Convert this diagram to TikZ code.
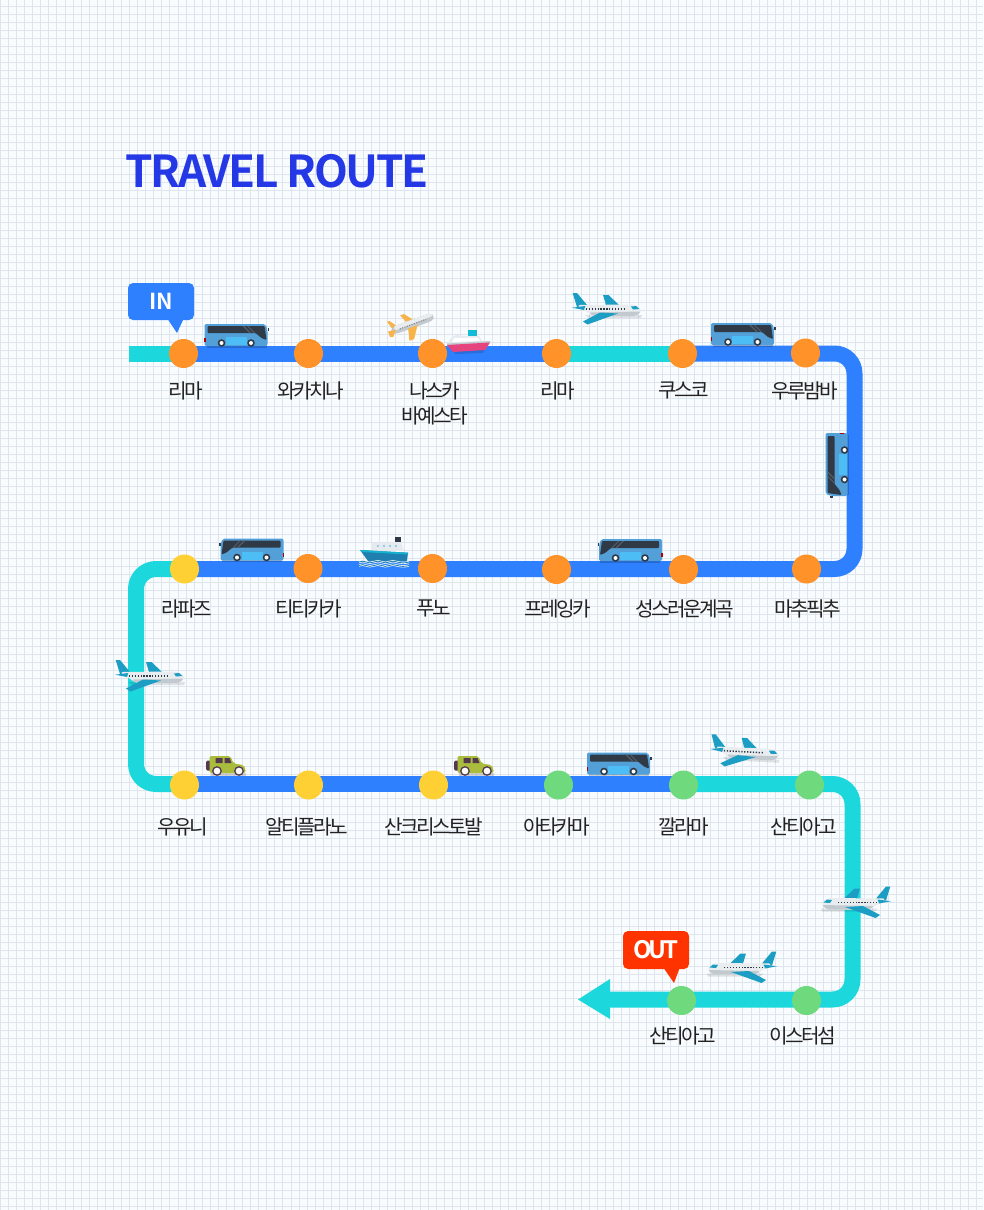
\documentclass[tikz,border=0pt]{standalone}
\usepackage{fontspec}
\newfontfamily\krfont[LetterSpace=-13]{Noto Sans CJK KR}
\newfontfamily\titlefont[LetterSpace=-5]{Noto Sans CJK KR Bold}
\newfontfamily\tagfont{Noto Sans CJK KR Bold}
\newfontfamily\outfont[LetterSpace=-12]{Noto Sans CJK KR Bold}
\usetikzlibrary{calc}
\pgfdeclarelayer{gridlayer}
\pgfdeclarelayer{routelayer}
\pgfsetlayers{gridlayer,routelayer,main}
\definecolor{rblue}{HTML}{2F80FF}
\definecolor{rteal}{HTML}{1CD8DC}
\definecolor{sorange}{HTML}{FF9228}
\definecolor{syellow}{HTML}{FFD033}
\definecolor{sgreen}{HTML}{6FD97E}
\definecolor{ink}{HTML}{222222}
\definecolor{titleblue}{HTML}{2438E6}
\definecolor{outred}{HTML}{FF3300}
\definecolor{busbody}{HTML}{539FD8}
\definecolor{busglass}{HTML}{2F3A46}
\definecolor{buspanel}{HTML}{4CBDF5}
\definecolor{planeteal}{HTML}{1C9EC4}
\definecolor{planegrey}{HTML}{C3CACF}
\definecolor{planewhite}{HTML}{E9EDF0}
\definecolor{jeepgreen}{HTML}{A9BC3C}
\definecolor{jeepdark}{HTML}{54394F}
\definecolor{shippink}{HTML}{E5447E}
\definecolor{shipblue}{HTML}{1F7FAE}
\definecolor{wingorange}{HTML}{F6B44A}
\definecolor{gridcol}{HTML}{DFE5EC}
\definecolor{bgcol}{HTML}{F9FCFE}
\definecolor{deckcol}{HTML}{E6EBF0}
\tikzset{
  gridline/.style={draw=gridcol, line width=1pt},
  seg/.style={line width=16pt, line cap=butt, line join=round, rounded corners=20pt},
  blueseg/.style={seg, draw=rblue},
  tealseg/.style={seg, draw=rteal},
  stop/.style={circle, minimum size=29pt, inner sep=0pt},
  stoporange/.style={stop, fill=sorange},
  stopyellow/.style={stop, fill=syellow},
  stopgreen/.style={stop, fill=sgreen},
  place/.style={inner sep=0pt, text=ink, yshift=-0.7pt, font=\krfont\fontsize{20.2}{20.2}\selectfont},
  tagbox/.style={rounded corners=5pt, minimum width=66pt, inner sep=0pt, text=white},
  busicon/.pic={
    \fill[black, opacity=.18] (-30,10) rectangle (30,12.5);
    \fill[busbody, rounded corners=2] (-32,-11) -- (29,-11) -- (31,-5) -- (31,11) -- (-32,11) -- cycle;
    \fill[busglass, rounded corners=1] (-29,-9) -- (28,-9) -- (30,5) -- (25,3) -- (19,-2) -- (-29,-2) -- cycle;
    \fill[gray!45!busglass] (6,-9) -- (8,-9) -- (15,-2) -- (13,-2) -- cycle (10.5,-9) -- (12,-9) -- (19,-2) -- (17.5,-2) -- cycle;
    \fill[buspanel] (-11,2) rectangle (10,10);
    \fill[red!70!black] (-32.5,3) rectangle (-31,7);
    \fill[busglass] (31,-7) rectangle (32.5,-4);
    \foreach \wx in {-15,14.5}{
      \fill[busglass] (\wx,8) circle (3.8);
      \fill[white] (\wx,8) circle (2);
    }
  },
  planeicon/.pic={
    \fill[black, opacity=.10] (-22,7) -- (35,7) -- (34,10) -- (-18,10) -- cycle;
    \fill[planeteal] (-4,-13) -- (1.5,-13) -- (12,-3) -- (-1,-3) -- cycle;
    \fill[planeteal] (-34.3,-15) -- (-30,-15) -- (-20,-3) -- (-30,-1) -- cycle;
    \fill[planewhite, rounded corners=3] (-30,-3) -- (28,-3.5) -- (34,1) -- (34,4) -- (29,8) -- (-14,8) -- cycle;
    \fill[planegrey, rounded corners=2] (-18,4.5) -- (34,3.5) -- (29,8) -- (-14,8) -- cycle;
    \fill[planeteal] (24,-1.5) -- (29,-2) -- (32.5,1) -- (26,1.5) -- cycle;
    \draw[busglass, line width=1.5pt, dash pattern=on 1.3pt off 1.6pt] (-24,0.8) -- (19,0.8);
    \fill[planeteal] (-24,13.5) -- (-19.6,16.5) -- (11,5.5) -- (-7,4.5) -- cycle;
    \fill[planeteal] (-35,-0.3) -- (-21.7,-2) -- (-23,2) -- cycle;
  },
  orangeplane/.pic={
    \fill[wingorange] (-5,-12) -- (-1,-12) -- (7,-2) -- (-1,-2) -- cycle;
    \fill[wingorange] (-19.6,-10.6) -- (-17,-10.6) -- (-11,-2) -- (-17,-2) -- cycle;
    \fill[planegrey, rounded corners=3] (-21,1) -- (-15,-4) -- (24,-4) -- (27,0) -- (24,4) -- (-15,4) -- cycle;
    \fill[planewhite, rounded corners=2] (-15,-4) -- (24,-4) -- (26,-0.5) -- (-15,0.5) -- cycle;
    \draw[gray, line width=1pt, dash pattern=on 1pt off 1.5pt] (-10,0.5) -- (18,0.5);
    \fill[wingorange] (-2,3) -- (8,3) -- (0,15) -- (-5,15) -- cycle;
    \fill[wingorange] (-22,-1) -- (-14,0) -- (-19,6) -- (-22,5) -- cycle;
  },
  pinkship/.pic={
    \fill[black, opacity=.14] (-16,9) -- (17,7) -- (15,11) -- (-12,12) -- cycle;
    \fill[planeteal!70!cyan] (0,-12) rectangle (9,-4);
    \fill[deckcol] (-18,-3) -- (-12,-7) -- (-2,-6) -- (11,-6) -- (14,-1) -- (22,0) -- (20,4) -- (-21,4) -- cycle;
    \fill[white] (-14,-4) -- (10,-4.5) -- (12,-1) -- (-16,0) -- cycle;
    \fill[planegrey] (-21,1.5) -- (22,-1) -- (22,1) -- (-21,3.5) -- cycle;
    \fill[shippink] (-21,3) -- (22,0.5) -- (17,8) -- (-15,10) -- cycle;
  },
  blueship/.pic={
    \fill[busglass] (11,-15) rectangle (17,-9);
    \fill[deckcol] (-13,-9) -- (17,-10) -- (20,-1) -- (-13,-2) -- cycle;
    \foreach \wx in {-6,0,6,12}{\fill[planeteal!60] (\wx,-6) circle (1.2);}
    \fill[shipblue] (-24,-2) -- (24,0.7) -- (23,9) -- (-16,9) -- cycle;
    \fill[shipblue!60!cyan] (-24,-2) -- (24,0.7) -- (24,2.5) -- (-22,0) -- cycle;
    \foreach \wy in {10,13.5}{
      \draw[white, line width=2.2pt] (-25,\wy) .. controls (-20,\wy-3) and (-16,\wy+3) .. (-10,\wy) .. controls (-5,\wy-3) and (0,\wy+3) .. (5,\wy) .. controls (10,\wy-3) and (15,\wy+3) .. (25,\wy);
      \draw[shipblue, line width=.9pt] (-25,\wy) .. controls (-20,\wy-3) and (-16,\wy+3) .. (-10,\wy) .. controls (-5,\wy-3) and (0,\wy+3) .. (5,\wy) .. controls (10,\wy-3) and (15,\wy+3) .. (25,\wy);
    }
  },
  jeepicon/.pic={
    \fill[black, opacity=.15] (-15,7) rectangle (20,10.5);
    \fill[jeepdark, rounded corners=1.5] (-19.5,-5) rectangle (-14.5,5);
    \fill[jeepgreen, rounded corners=2] (-16,-9.5) -- (5,-9.5) -- (8,-2) -- (18,-0.5) -- (20,3) -- (20,7.5) -- (-16,7.5) -- cycle;
    \fill[jeepdark] (-10,-7.5) rectangle (-3,-2.5) (-1,-7.5) -- (4,-7.5) -- (6,-2.5) -- (-1,-2.5) -- cycle;
    \foreach \wx in {-8.5,13.5}{
      \fill[white, draw=jeepdark, line width=1.3pt] (\wx,5.5) circle (4.2);
    }
  }
}
\begin{document}
\begin{tikzpicture}[x=1pt,y=-1pt]
\useasboundingbox (0,0) rectangle (983,1210);
\begin{pgfonlayer}{gridlayer}
  \fill[bgcol] (0,0) rectangle (983,1210);
  \foreach \gx in {0,...,122}{\draw[gridline] ({\gx*8.07+0.5},0) -- ({\gx*8.07+0.5},1210);}
  \foreach \gy in {0,...,151}{\draw[gridline] (0,{\gy*8+6}) -- (983,{\gy*8+6});}
\end{pgfonlayer}

% stations
\node[stoporange] (s1) at (183.5,353.5) {};
\node[stoporange] (s2) at (308.5,353.5) {};
\node[stoporange] (s3) at (432.5,353.5) {};
\node[stoporange] (s4) at (556.5,353.5) {};
\node[stoporange] (s5) at (682.5,353.5) {};
\node[stoporange] (s6) at (805.5,353) {};
\node[stoporange] (s7) at (806.5,569) {};
\node[stoporange] (s8) at (683.5,569.5) {};
\node[stoporange] (s9) at (556.5,569.5) {};
\node[stoporange] (s10) at (432.5,568.5) {};
\node[stoporange] (s11) at (308,568.5) {};
\node[stopyellow] (s12) at (184.5,569) {};
\node[stopyellow] (s13) at (184.5,785) {};
\node[stopyellow] (s14) at (308.5,785) {};
\node[stopyellow] (s15) at (433.5,785) {};
\node[stopgreen] (s16) at (558.5,785) {};
\node[stopgreen] (s17) at (683.5,785) {};
\node[stopgreen] (s18) at (809.5,785) {};
\node[stopgreen] (s19) at (806.5,1000.5) {};
\node[stopgreen] (s20) at (681.5,1000.5) {};

\coordinate (start) at (129,353.5);
\coordinate (c1) at (854.5,353.5);
\coordinate (c2) at (854.5,569);
\coordinate (c3) at (136,569);
\coordinate (c4) at (136,784);
\coordinate (c5) at (852.5,784);
\coordinate (c6) at (852.5,999.5);
\coordinate (tipbase) at (610,999.5);
\coordinate (tip) at (578,999.5);

\begin{pgfonlayer}{routelayer}
  \draw[tealseg] (start) -- (s1.center);
  \draw[blueseg] (s1.center) -- (s2.center) -- (s3.center) -- (s4.center);
  \draw[tealseg] (s4.center) -- (s5.center);
  \draw[blueseg] (s5.center) -- (s6.center |- c1) -- (c1) -- (c2) -- (s7.center |- c2) -- (s8.center |- c2) -- (s9.center |- c2) -- (s10.center |- c2) -- (s11.center |- c2) -- (s12.center);
  \draw[tealseg] (s12.center) -- (c3) -- (c4) -- (s13.center |- c4);
  \draw[blueseg] (s13.center |- c4) -- (s14.center |- c4) -- (s15.center |- c4) -- (s16.center |- c4) -- (s17.center |- c4);
  \draw[tealseg] (s17.center |- c4) -- (s18.center |- c4) -- (c5) -- (c6) -- (s19.center |- c6) -- (s20.center |- c6) -- (tipbase);
  \fill[rteal] (tip) -- (tipbase |- 0,979) -- (tipbase |- 0,1019) -- cycle;
\end{pgfonlayer}

% title
\node[anchor=west, inner sep=0pt, text=titleblue, draw=titleblue, line width=0.4pt, draw opacity=0, font=\titlefont\fontsize{44}{44}\selectfont] (title) at (125,171) {TRAVEL ROUTE};

% labels
\node[place] (l1) at (186,390) {리마};
\node[place] (l2) at (310.5,390) {와카치나};
\node[place] (l3) at (434.5,390.5) {나스카};
\node[place] (l3b) at (434.5,415.5) {바예스타};
\node[place] (l4) at (558,390) {리마};
\node[place] (l5) at (684,389.5) {쿠스코};
\node[place] (l6) at (804.5,390) {우루밤바};
\node[place] (l7) at (807.5,608) {마추픽추};
\node[place] (l8) at (684.5,608.5) {성스러운계곡};
\node[place] (l9) at (558,608) {프레잉카};
\node[place] (l10) at (434,607.5) {푸노};
\node[place] (l11) at (309,608.5) {티티카카};
\node[place] (l12) at (187,608) {라파즈};
\node[place] (l13) at (182.5,826) {우유니};
\node[place] (l14) at (306.5,826) {알티플라노};
\node[place] (l15) at (433.5,826.5) {산크리스토발};
\node[place] (l16) at (556.5,826.5) {아타카마};
\node[place] (l17) at (684,826.5) {깔라마};
\node[place] (l18) at (803.5,826) {산티아고};
\node[place] (l19) at (802.5,1035.5) {이스터섬};
\node[place] (l20) at (683,1035.5) {산티아고};

% icons
\pic at (236.5,335) {busicon};
\pic at (743,334) {busicon};
\pic[rotate=90,xscale=-1] at (836.5,465) {busicon};
\pic[xscale=-1] at (251.5,549.5) {busicon};
\pic[xscale=-1] at (630,550) {busicon};
\pic at (619,763.5) {busicon};
\pic at (607,308) {planeicon};
\pic at (150,675) {planeicon};
\pic[rotate=-3] at (745,751) {planeicon};
\pic[xscale=-1] at (856,901.5) {planeicon};
\pic[xscale=-1] at (742,966.5) {planeicon};
\pic[rotate=20] at (409,325) {orangeplane};
\pic at (468,342) {pinkship};
\pic at (384,552) {blueship};
\pic at (225.5,765.5) {jeepicon};
\pic at (473.5,765.5) {jeepicon};

% IN / OUT tags
\node[tagbox, fill=rblue, minimum height=37pt, font=\tagfont\fontsize{22}{22}\selectfont] (intag) at (161,301.5) {IN};
\fill[rblue] (167,318) -- (184,318) -- (177,333) -- cycle;
\node[tagbox, fill=outred, minimum height=38pt, font=\outfont\fontsize{24}{24}\selectfont] (outtag) at (656,950) {OUT};
\fill[outred] (663,967) -- (680,967) -- (674,983) -- cycle;
\end{tikzpicture}
\end{document}
